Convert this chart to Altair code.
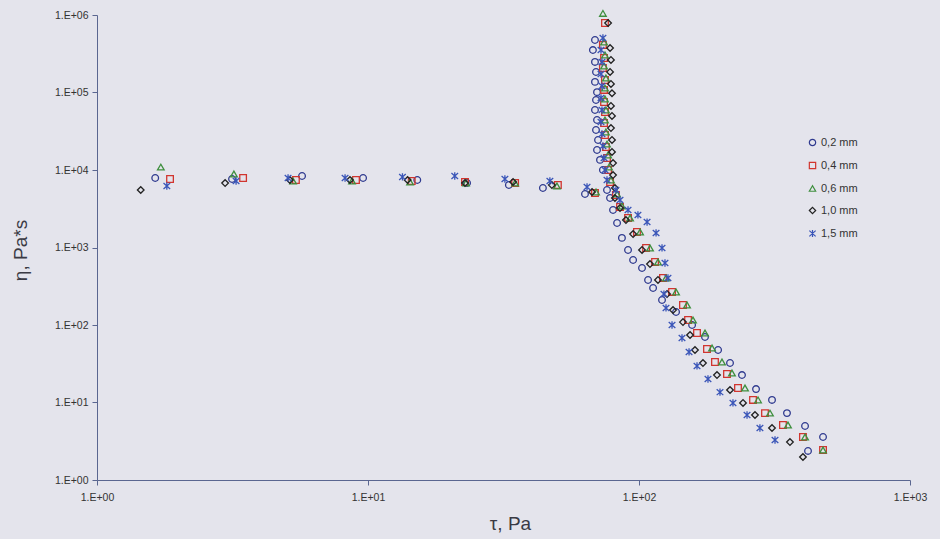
import altair as alt
import pandas as pd

series_names = ["0,2 mm", "0,4 mm", "0,6 mm", "1,0 mm", "1,5 mm"]
series_colors = ["#2f3a8f", "#d1352f", "#3f8f3f", "#222222", "#3a55b8"]
asterisk_path = "M-1,-0.9L1,0.9M-1,0.9L1,-0.9M0,-1.1L0,1.1"
series_shapes = ["circle", "square", "triangle-up", "diamond", asterisk_path]

circle_x = [1.64, 3.15, 5.71, 9.59, 15.2, 23.2, 33.1, 44.2, 63.2,
            68.8, 67.6, 68.8, 69.4, 68.8, 70.0, 69.4, 68.8, 70.0, 69.4, 70.6, 70.0, 71.8, 73.6, 76.2,
            78.2, 80.2, 83.0, 86.5, 91.1, 95.1, 102.6, 108.0, 112.7, 121.6, 137.0, 157.0,
            175.2, 195.8, 216.7, 239.9, 270.3, 309.6, 351.6, 409.9, 477.6, 420.4]
circle_y = [7880, 7650, 8370, 7880, 7430, 6790, 6400, 5860, 4900,
            4.76e5, 3.53e5, 2.48e5, 1.84e5, 1.37e5, 1.01e5, 8.0e4, 5.94e4, 4.42e4, 3.28e4, 2.44e4, 1.81e4, 1.35e4, 1.0e4, 5520,
            4350, 3050, 2070, 1330, 929, 690, 544, 381, 300, 210, 147, 100,
            70, 47.6, 32.3, 22.6, 14.9, 10.8, 7.3, 4.97, 3.59, 2.37]

square_x = [1.86, 3.46, 5.42, 9.03, 14.5, 22.8, 34.9, 50.2, 68.8,
            74.9, 73.6, 74.3, 73.6, 74.9, 74.3, 74.3, 74.9, 74.3, 74.9, 75.5, 76.2, 76.9, 78.2,
            82.2, 85.1, 91.1, 98.3, 106.2, 114.6, 122.6, 132.4,
            145.3, 151.7, 163.7, 178.2, 190.7, 211.2, 231.9, 263.5, 291.7, 339.8, 402.7, 477.6]
square_y = [7650, 7880, 7430, 7430, 7210, 7000, 6790, 6400, 5050,
            7.88e5, 4.10e5, 2.79e5, 2.07e5, 1.45e5, 1.08e5, 7.54e4, 5.6e4, 4.04e4, 2.83e4, 1.98e4, 1.43e4, 1.0e4, 7000,
            4760, 3330, 2400, 1585, 986, 650, 404, 267,
            181, 116, 78.8, 49, 33.3, 23.3, 15.4, 10.8, 7.3, 5.13, 3.59, 2.44]

triangle_x = [1.72, 3.20, 5.29, 8.73, 14.3, 23.0, 34.9, 49.8, 69.4,
              73.6, 74.3, 74.9, 74.3, 75.5, 74.9, 74.9, 75.5, 74.9, 75.5, 76.2, 76.9, 77.5, 78.8,
              83.0, 86.5, 92.7, 100.9, 109.8, 117.5, 125.8, 137.0,
              150.4, 158.2, 175.2, 186.0, 202.4, 220.3, 246.1, 274.9, 304.3, 354.6, 409.9, 477.6]
triangle_y = [1.09e4, 8880, 7210, 7210, 7000, 6790, 6790, 6220, 5200,
              1.05e6, 4.48e5, 3.05e5, 2.2e5, 1.54e5, 1.14e5, 8.24e4, 5.94e4, 4.42e4, 3.09e4, 2.16e4, 1.56e4, 1.09e4, 7430,
              4900, 3430, 2400, 1585, 986, 650, 404, 267,
              181, 116, 78.8, 50.5, 33.3, 24.0, 15.4, 10.8, 7.3, 5.13, 3.59, 2.44]

diamond_x = [1.45, 2.97, 5.15, 8.58, 14.0, 22.8, 34.3, 47.7, 67.1,
             76.9, 78.2, 78.8, 78.2, 78.8, 79.5, 78.8, 79.5, 78.8, 79.5, 79.5, 80.2, 80.2, 81.5,
             81.5, 85.1, 89.5, 95.1, 102.6, 109.8, 117.5, 126.9,
             133.5, 145.3, 154.3, 160.9, 172.2, 194.0, 216.7, 242.0, 267.9, 309.6, 360.6, 402.7]
diamond_y = [5520, 6790, 7430, 7430, 7430, 6790, 7000, 6400, 5200,
             7.88e5, 3.75e5, 2.63e5, 1.84e5, 1.29e5, 9.78e4, 6.7e4, 4.98e4, 3.48e4, 2.44e4, 1.71e4, 1.23e4, 8610, 5860,
             4350, 3230, 2260, 1490, 929, 612, 381, 251,
             156, 109, 74.3, 47.6, 32.3, 22.6, 14.5, 9.86, 6.9, 4.69, 3.09, 1.98]

asterisk_x = [1.81, 3.26, 5.07, 8.23, 13.4, 20.9, 32.0, 46.9, 64.3,
              73.6, 72.4, 73.0, 72.4, 73.0, 72.4, 73.0, 72.4, 73.0, 73.6, 74.3, 74.9, 76.2,
              82.2, 85.1, 91.1, 99.1, 107.1, 115.6, 121.6, 124.7, 127.9, 123.6,
              125.8, 132.4, 144.1, 153.0, 163.7, 179.7, 199.0, 222.2, 250.4, 279.4, 317.6]
asterisk_y = [6220, 7210, 7880, 7880, 8130, 8370, 7650, 7210, 6040,
              5.05e5, 3.53e5, 2.48e5, 1.73e5, 1.21e5, 8.5e4, 5.94e4, 4.16e4, 2.92e4, 2.04e4, 1.43e4, 1.0e4, 7430,
              5520, 4100, 3050, 2630, 2130, 1540, 986, 631, 404, 251,
              166, 100, 68, 44.9, 29.6, 20.1, 13.6, 9.86, 6.9, 4.69, 3.28]

x_ticks = [1, 10, 100, 1000]
y_ticks = [1, 10, 100, 1000, 10000, 100000, 1000000]

all_x = [circle_x, square_x, triangle_x, diamond_x, asterisk_x]
all_y = [circle_y, square_y, triangle_y, diamond_y, asterisk_y]

rows = []
for name, xs, ys in zip(series_names, all_x, all_y):
    for xv, yv in zip(xs, ys):
        rows.append({"series": name, "tau": xv, "eta": yv})
df = pd.DataFrame(rows)
df["ord"] = range(len(df))

label_expr = "'1.E+0' + round(log(datum.value) / LN10)"

chart = alt.Chart(df).mark_point(filled=False, size=44, strokeWidth=1.3, opacity=1).encode(
    x=alt.X("tau:Q",
            scale=alt.Scale(type="log", domain=[1, 1000], nice=False),
            axis=alt.Axis(values=x_ticks, labelExpr=label_expr, title="τ, Pa",
                          titleX=413, titleY=43, titleBaseline="middle", labelPadding=7,
                          labelFlush=False)),
    y=alt.Y("eta:Q",
            scale=alt.Scale(type="log", domain=[1, 1000000], nice=False),
            axis=alt.Axis(values=y_ticks, labelExpr=label_expr, title="η, Pa*s",
                          titleX=-77, titleY=235, titleBaseline="middle", titleAngle=270,
                          labelPadding=4, labelFlush=False)),
    color=alt.Color("series:N", scale=alt.Scale(domain=series_names, range=series_colors),
                    legend=alt.Legend(title=None)),
    shape=alt.Shape("series:N", scale=alt.Scale(domain=series_names, range=series_shapes),
                    legend=alt.Legend(title=None)),
    order=alt.Order("ord:Q"),
).properties(
    width=813,
    height=465,
    background="#e4e4ec",
    autosize=alt.AutoSizeParams(type="none"),
    padding={"left": 97, "top": 15, "right": 30, "bottom": 59},
).configure_view(
    stroke=None
).configure_axis(
    grid=False,
    domainColor="#5a6690",
    tickColor="#5a6690",
    domainWidth=1,
    tickSize=5,
    labelFont="Liberation Sans",
    labelFontSize=10.5,
    labelColor="#333333",
    titleFont="Liberation Sans",
    titleFontSize=19,
    titleFontWeight="normal",
    titleColor="#3a3a44",
).configure_legend(
    orient="none",
    legendX=710,
    legendY=122,
    padding=0,
    rowPadding=10,
    labelFont="Liberation Sans",
    labelFontSize=11,
    labelColor="#333333",
    symbolSize=40,
    symbolStrokeWidth=1.2,
    labelOffset=3,
)

chart.save("out.html", embed_options={"renderer": "svg", "actions": False})
